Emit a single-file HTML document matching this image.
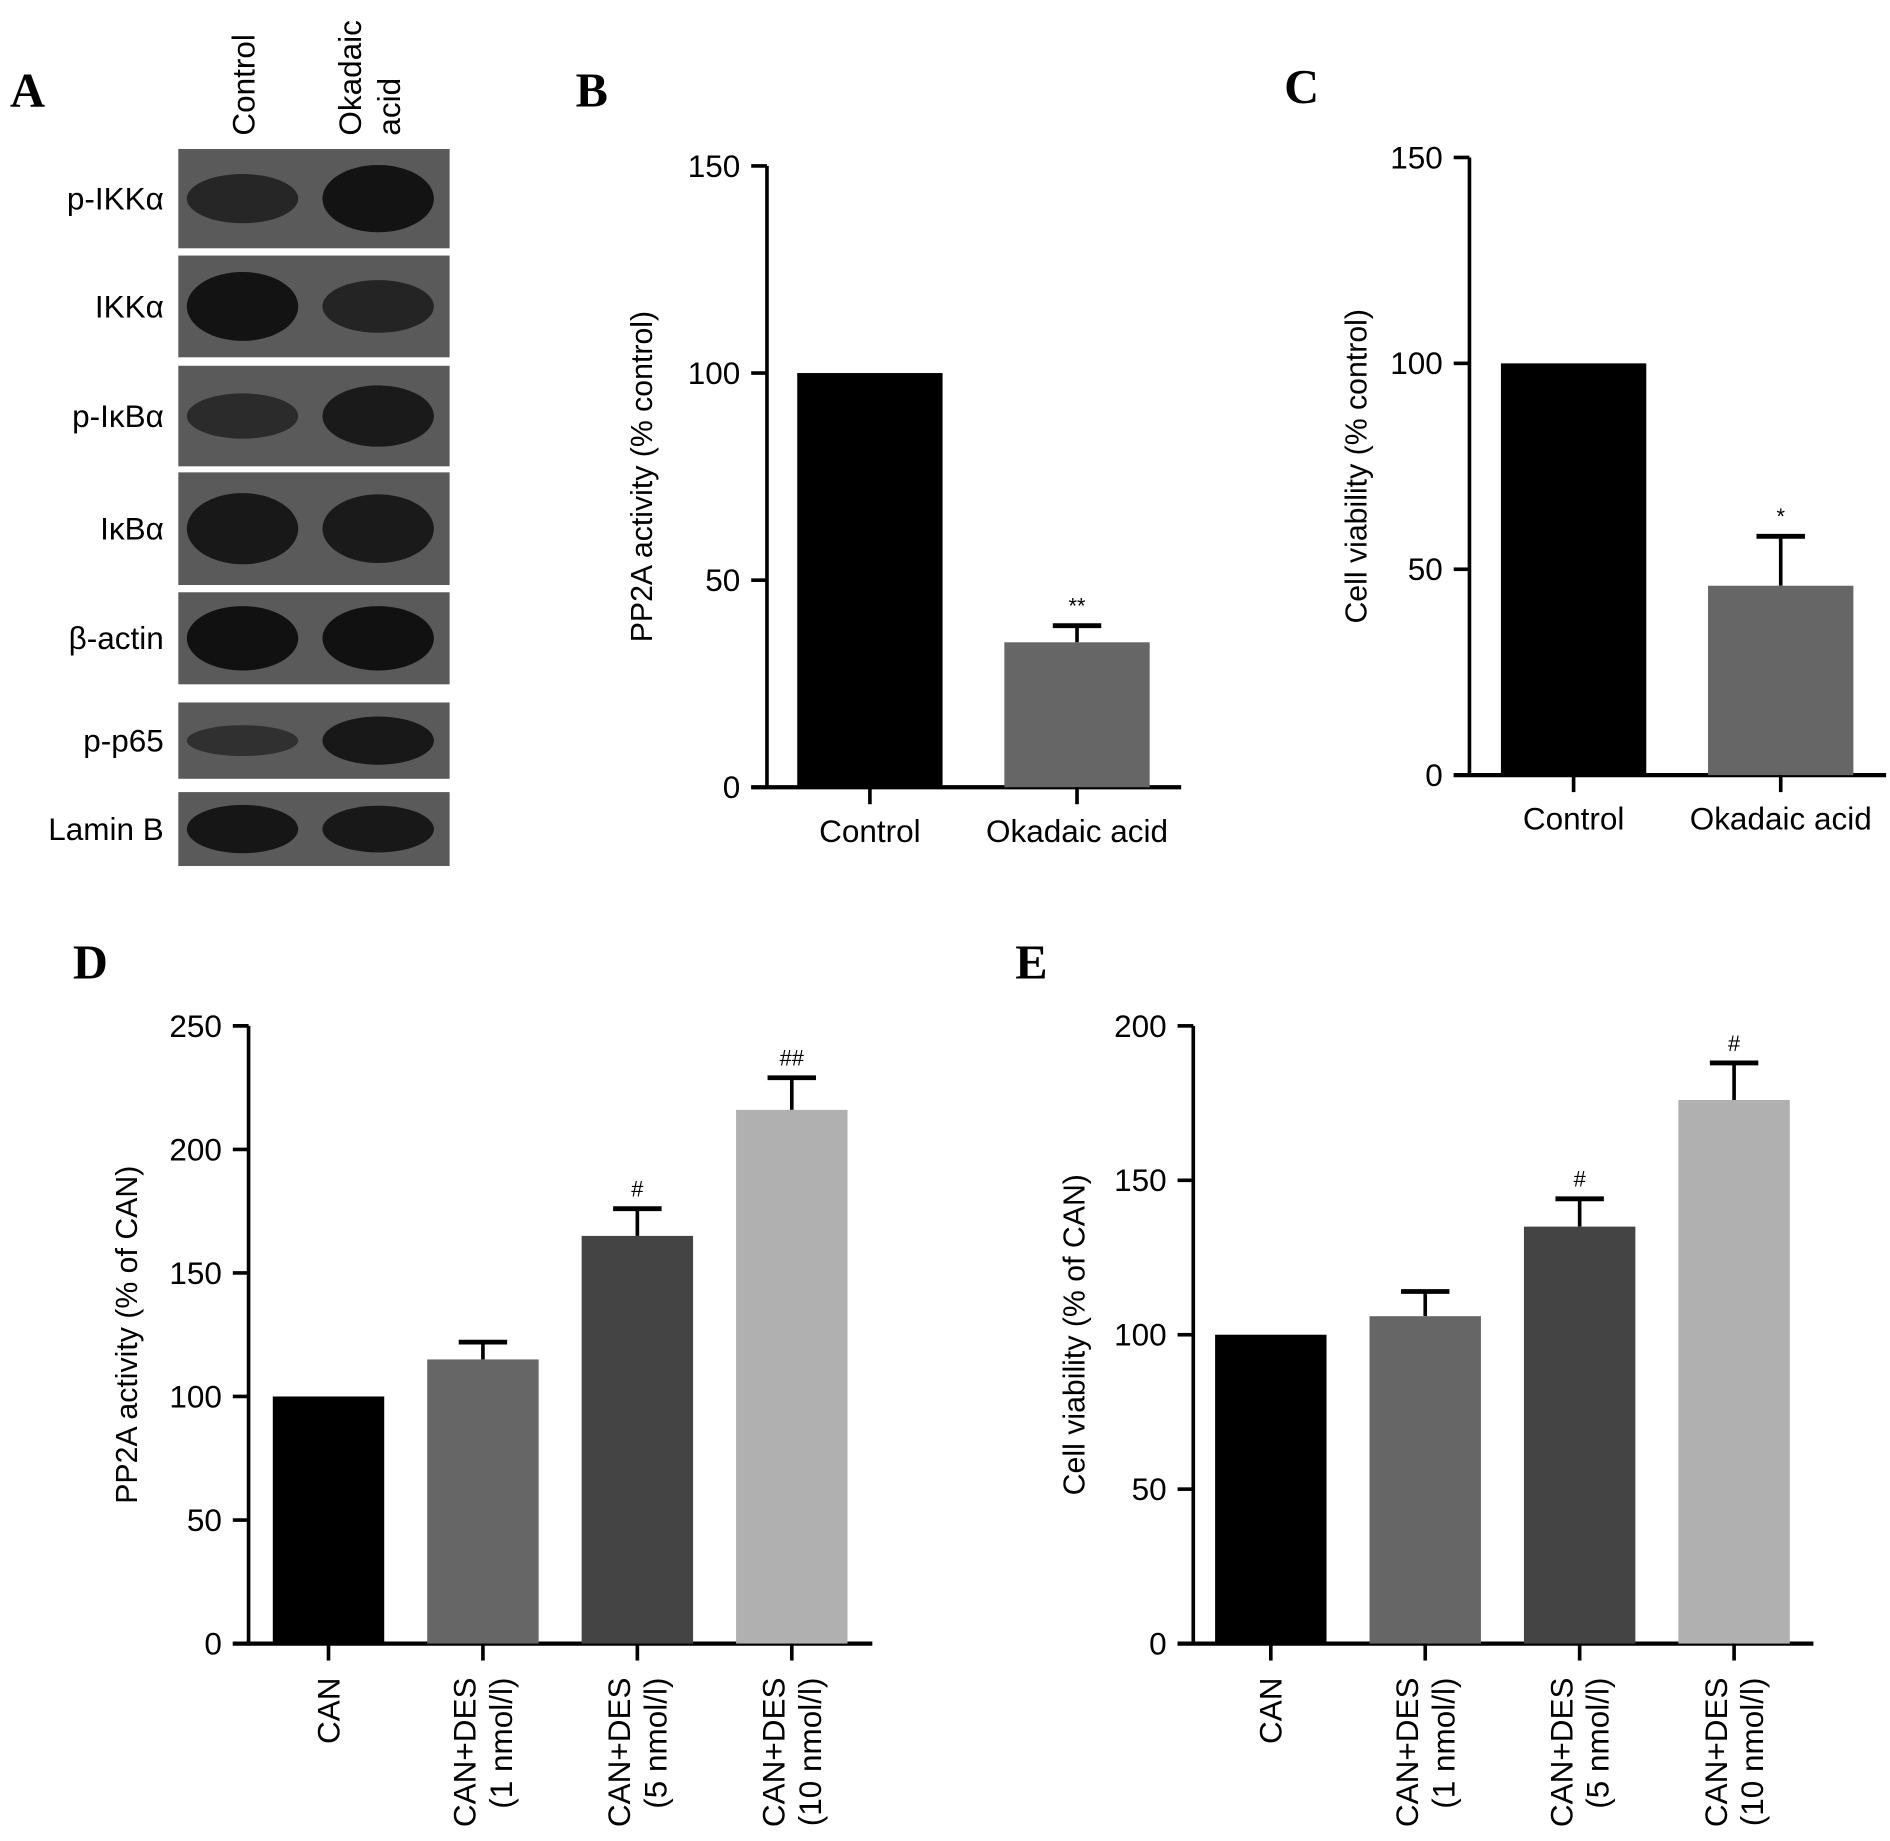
<!DOCTYPE html>
<html><head><meta charset="utf-8"><style>
html,body{margin:0;padding:0;background:#fff;}
svg{display:block;font-family:"Liberation Sans",sans-serif;}
.lt{font-family:"Liberation Serif",serif;font-weight:bold;font-size:40px;}
</style></head><body>
<svg id="fig" width="1890" height="1841" viewBox="0 0 1560 1520" xmlns="http://www.w3.org/2000/svg">
<rect width="1560" height="1520" fill="#fff"/>
<text class="lt" x="8" y="88">A</text>
<text class="lt" x="475" y="88">B</text>
<text class="lt" x="1060" y="85">C</text>
<text class="lt" x="60" y="808">D</text>
<text class="lt" x="838" y="808">E</text>
<g id="blots"></g>
<g id="charts"></g>
</svg>
<script>
// ---- Panel A blot data ----
const blotLabels = ["p-IKKα","IKKα","p-IκBα","IκBα","β-actin","p-p65","Lamin B"];
const blotIntensityControl = [0.55,0.95,0.45,0.85,1.0,0.35,0.9];
const blotIntensityOkadaic = [0.95,0.6,0.8,0.8,1.0,0.85,0.85];

// ---- Panel B ----
const bCats = ["Control","Okadaic acid"];
const bVals = [100,35];
const bErr = [0,39];
const bSig = ["","**"];
const bTicks = [0,50,100,150];
// ---- Panel C ----
const cCats = ["Control","Okadaic acid"];
const cVals = [100,46];
const cErr = [0,58];
const cSig = ["","*"];
const cTicks = [0,50,100,150];
// ---- Panel D ----
const dCats = [["CAN"],["CAN+DES","(1 nmol/l)"],["CAN+DES","(5 nmol/l)"],["CAN+DES","(10 nmol/l)"]];
const dVals = [100,115,165,216];
const dErr = [0,122,176,229];
const dSig = ["","","#","##"];
const dTicks = [0,50,100,150,200,250];
// ---- Panel E ----
const eVals = [100,106,135,176];
const eErr = [0,114,144,188];
const eSig = ["","","#","#"];
const eTicks = [0,50,100,150,200];

const NS="http://www.w3.org/2000/svg";
function mk(tag,attrs,parent,text){const e=document.createElementNS(NS,tag);for(const k in attrs)e.setAttribute(k,attrs[k]);if(text!==undefined)e.textContent=text;parent.appendChild(e);return e;}

// blots
const blotG=document.getElementById('blots');
const boxes=[[123,205],[211,295],[302,385],[390,483],[489,565],[580,643],[654,715]];
blotLabels.forEach((lab,i)=>{
  const [y0,y1]=boxes[i];const cy=(y0+y1)/2;
  const r=mk('rect',{x:147,y:y0,width:224,height:y1-y0,fill:'#5a5a5a'},blotG);
  
  
  const h=(y1-y0)*0.35;
  [[200,blotIntensityControl[i]],[312,blotIntensityOkadaic[i]]].forEach(([cx,v])=>{
    const b=mk('ellipse',{cx:cx,cy:cy,rx:46,ry:h*(0.35+0.65*v),fill:'#111',opacity:0.35+0.65*v},blotG);
    
    
  });
  const t=mk('text',{x:135,y:cy+9,'text-anchor':'end','font-size':26},blotG,lab);
  
  
});
[["Control",210],["Okadaic",298],["acid",330]].forEach(([s,x])=>{
  const t=mk('text',{transform:`translate(${x},112) rotate(-90)`,'font-size':26},blotG,s);
  
  
});

function chart(cfg){
  const g=mk('g',{},document.getElementById('charts'));
  
  
  const max=cfg.ticks[cfg.ticks.length-1];
  const ys=v=>cfg.y0-(v/max)*(cfg.y0-cfg.yTop);
  const xs=i=>cfg.xFirst+i*cfg.step;
  mk('line',{x1:cfg.ax,y1:cfg.yTop,x2:cfg.ax,y2:cfg.y0,stroke:'#000','stroke-width':3},g);
  mk('line',{x1:cfg.ax-13,y1:cfg.y0,x2:cfg.xEnd,y2:cfg.y0,stroke:'#000','stroke-width':3.5},g);
  cfg.ticks.forEach(t=>{
    mk('line',{x1:cfg.ax-13,y1:ys(t),x2:cfg.ax,y2:ys(t),stroke:'#000','stroke-width':3},g);
    const tl=mk('text',{x:cfg.ax-22,y:ys(t)+9,'text-anchor':'end','font-size':26},g,t);
    
    
  });
  const yt=mk('text',{transform:`translate(${cfg.titleX},${(cfg.yTop+cfg.y0)/2}) rotate(-90)`,'text-anchor':'middle','font-size':25},g,cfg.title);
  
  
  cfg.vals.forEach((v,i)=>{
    const cx=xs(i);
    if(cfg.err[i]>v){
      mk('line',{x1:cx,y1:ys(cfg.err[i]),x2:cx,y2:ys(v),stroke:'#000','stroke-width':3},g);
      mk('line',{x1:cx-20,y1:ys(cfg.err[i]),x2:cx+20,y2:ys(cfg.err[i]),stroke:'#000','stroke-width':4},g);
    }
    const b=mk('rect',{x:cx-cfg.bw/2,y:ys(v),width:cfg.bw,height:cfg.y0-ys(v),fill:cfg.colors[i]},g);
    
    
    if(cfg.sig[i]){
      const s=mk('text',{x:cx,y:ys(cfg.err[i])-10,'text-anchor':'middle','font-size':18},g,cfg.sig[i]);
      
      
    }
    mk('line',{x1:cx,y1:cfg.y0,x2:cx,y2:cfg.y0+14,stroke:'#000','stroke-width':3},g);
    const lab=cfg.cats[i];
    if(cfg.rot){
      lab.forEach((ln,k)=>{
        const off=(k-(lab.length-1)/2)*30;
        const t=mk('text',{transform:`translate(${cx+off+9},${cfg.y0+28}) rotate(-90)`,'text-anchor':'end','font-size':26},g,ln);
        
        
      });
    } else {
      const t=mk('text',{x:cx,y:cfg.y0+45,'text-anchor':'middle','font-size':26},g,lab);
      
      
    }
  });
}
chart({name:'pp2a-okadaic-chart',ax:633,yTop:137,y0:650,xEnd:975,xFirst:718,step:171,bw:120,ticks:bTicks,vals:bVals,err:bErr,sig:bSig,cats:bCats,colors:['#000','#666'],title:'PP2A activity (% control)',titleX:538});
chart({name:'viability-okadaic-chart',ax:1213,yTop:130,y0:640,xEnd:1557,xFirst:1299,step:171,bw:120,ticks:cTicks,vals:cVals,err:cErr,sig:cSig,cats:cCats,colors:['#000','#666'],title:'Cell viability (% control)',titleX:1128});
chart({name:'pp2a-des-chart',ax:205,yTop:847,y0:1357,xEnd:720,xFirst:271,step:127.5,bw:92,ticks:dTicks,vals:dVals,err:dErr,sig:dSig,cats:dCats,rot:true,colors:['#000','#666','#444','#b0b0b0'],title:'PP2A activity (% of CAN)',titleX:113});
chart({name:'viability-des-chart',ax:985,yTop:847,y0:1357,xEnd:1497,xFirst:1049,step:127.5,bw:92,ticks:eTicks,vals:eVals,err:eErr,sig:eSig,cats:dCats,rot:true,colors:['#000','#666','#444','#b0b0b0'],title:'Cell viability (% of CAN)',titleX:895});
</script>
</body></html>
